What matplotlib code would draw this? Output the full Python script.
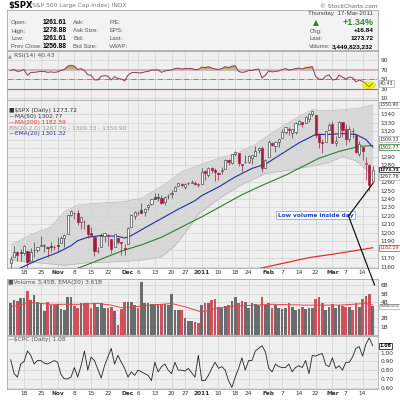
import matplotlib
matplotlib.use("Agg")
import matplotlib.pyplot as plt
import numpy as np
import pandas as pd
from matplotlib.patches import Rectangle, Ellipse, ConnectionPatch

# trading days shown on the chart
holidays = ["2010-11-25", "2010-12-24", "2011-01-17", "2011-02-21"]
dates = pd.bdate_range("2010-10-12", "2011-03-17", freq="C", holidays=holidays)

prev_close0 = 1165.3
opens = [
    1164.3, 1171.3, 1177.8, 1177.5, 1176.8, 1178.6, 1166.7, 1179.8, 1180.5, 1184.7, 1184.9, 1183.8, 1184.5, 1183.9,
    1185.7, 1187.9, 1193.8, 1198.3, 1221.2, 1223.2, 1223.6, 1213.1, 1213.0, 1209.1, 1200.4, 1194.8, 1178.3, 1183.8,
    1196.1, 1198.1, 1192.5, 1183.7, 1194.2, 1189.1, 1182.6,
    1186.6, 1206.8, 1219.9, 1223.9, 1227.3, 1225.0, 1230.1, 1233.9, 1242.5, 1241.8, 1241.6, 1236.3, 1243.6, 1245.8,
    1249.4, 1254.9, 1257.5, 1254.7, 1259.1, 1258.8, 1259.4, 1256.8,
    1257.6, 1272.9, 1268.8, 1276.3, 1274.4, 1270.8, 1272.6, 1275.7, 1285.8, 1282.9, 1293.2, 1294.5, 1280.9, 1283.6,
    1283.3, 1288.2, 1291.1, 1297.5, 1299.6, 1276.5,
    1289.1, 1305.9, 1302.8, 1307.0, 1311.9, 1318.8, 1322.5, 1318.1, 1318.7, 1328.7, 1330.4, 1329.5, 1334.4, 1340.4,
    1338.9, 1315.4, 1307.1, 1307.3, 1321.6,
    1328.6, 1305.5, 1312.4, 1330.7, 1322.7, 1311.1, 1319.9, 1315.7, 1293.4, 1301.2, 1281.7, 1279.5, 1261.6]
highs = [
    1172.6, 1184.4, 1178.9, 1181.2, 1185.5, 1178.6, 1182.9, 1189.4, 1184.0, 1196.1, 1187.1, 1183.8, 1189.5, 1185.5,
    1195.8, 1195.9, 1198.3, 1221.3, 1227.1, 1224.6, 1226.8, 1218.8, 1215.5, 1210.5, 1207.4, 1194.8, 1183.6, 1200.3,
    1199.9, 1198.9, 1192.5, 1198.6, 1194.2, 1189.1, 1187.4,
    1207.6, 1221.9, 1225.6, 1225.8, 1235.1, 1228.9, 1234.7, 1240.4, 1246.7, 1246.6, 1244.3, 1243.8, 1245.8, 1250.2,
    1255.8, 1259.4, 1258.6, 1258.4, 1259.9, 1262.6, 1261.1, 1259.3,
    1276.2, 1274.1, 1277.6, 1278.2, 1276.8, 1271.5, 1277.6, 1286.9, 1287.0, 1293.2, 1296.1, 1294.6, 1281.6, 1291.2,
    1291.9, 1291.3, 1302.0, 1301.3, 1302.7, 1287.2,
    1308.9, 1307.6, 1308.6, 1311.0, 1322.9, 1324.9, 1324.5, 1322.8, 1330.8, 1332.8, 1330.4, 1337.6, 1341.0, 1344.1,
    1338.9, 1317.9, 1310.2, 1320.6, 1329.4,
    1332.1, 1314.2, 1332.3, 1331.1, 1327.7, 1325.7, 1323.2, 1315.7, 1308.4, 1301.2, 1288.9, 1280.9, 1278.9]
lows = [
    1155.7, 1171.3, 1166.7, 1167.1, 1174.6, 1159.7, 1166.7, 1171.2, 1178.0, 1184.7, 1177.7, 1171.7, 1177.1, 1179.7,
    1177.7, 1187.9, 1183.6, 1198.3, 1220.3, 1217.0, 1208.9, 1204.3, 1204.5, 1194.1, 1197.2, 1173.0, 1175.9, 1183.8,
    1189.0, 1184.3, 1176.9, 1183.7, 1186.9, 1173.6, 1174.1,
    1186.6, 1206.8, 1216.6, 1220.7, 1223.3, 1219.5, 1226.8, 1232.6, 1240.3, 1238.2, 1234.0, 1232.9, 1239.9, 1241.5,
    1249.4, 1254.9, 1254.1, 1251.5, 1256.2, 1258.8, 1256.3, 1254.2,
    1257.6, 1262.7, 1265.4, 1270.4, 1261.7, 1262.2, 1269.6, 1275.7, 1280.4, 1281.1, 1290.2, 1278.9, 1271.3, 1282.1,
    1282.5, 1281.1, 1291.1, 1294.4, 1271.2, 1276.5,
    1289.1, 1302.6, 1294.8, 1301.7, 1311.9, 1316.0, 1314.9, 1311.6, 1316.1, 1326.9, 1324.6, 1329.5, 1331.0, 1338.1,
    1312.3, 1299.6, 1294.3, 1307.3, 1320.9,
    1306.1, 1302.6, 1312.4, 1312.6, 1303.9, 1306.9, 1312.3, 1294.2, 1291.0, 1286.4, 1261.9, 1249.1, 1261.6]
closes = [
    1169.8, 1178.1, 1173.8, 1176.2, 1184.7, 1165.9, 1178.2, 1180.3, 1183.1, 1185.6, 1185.6, 1182.5, 1183.8, 1183.3,
    1184.4, 1193.6, 1198.0, 1221.1, 1225.9, 1223.3, 1213.4, 1218.7, 1213.5, 1199.2, 1197.8, 1178.3, 1178.6, 1196.7,
    1199.7, 1197.8, 1180.7, 1198.4, 1189.4, 1187.8, 1180.6,
    1206.1, 1221.5, 1224.7, 1223.1, 1223.8, 1228.3, 1233.0, 1240.4, 1240.5, 1241.6, 1235.2, 1242.9, 1243.9, 1247.1,
    1254.6, 1258.8, 1256.8, 1257.5, 1258.5, 1259.8, 1257.9, 1257.6,
    1271.9, 1270.2, 1276.6, 1273.9, 1271.5, 1269.8, 1274.5, 1286.0, 1283.8, 1293.2, 1295.0, 1281.9, 1280.3, 1283.4,
    1290.8, 1291.2, 1296.6, 1299.5, 1276.3, 1286.1,
    1307.6, 1304.0, 1307.1, 1310.9, 1319.1, 1324.6, 1320.9, 1321.9, 1329.2, 1332.3, 1328.0, 1336.3, 1340.4, 1343.0,
    1315.4, 1307.4, 1306.1, 1319.9, 1327.2,
    1306.3, 1308.4, 1331.0, 1321.2, 1310.1, 1321.8, 1320.0, 1295.1, 1304.3, 1296.4, 1281.9, 1256.9, 1273.7]

# overlays (day index, value)
ema20_days = [0, 3, 8, 14, 18, 20, 23, 27, 32, 34, 36, 40, 45, 50, 55, 57, 62, 67, 72, 76, 80, 86, 91, 95, 99, 103, 106, 108]
ema20_vals = [1153, 1159, 1168, 1177, 1185, 1191, 1195, 1197, 1196, 1194, 1197, 1206, 1217, 1228, 1238, 1244, 1254,
              1266, 1276, 1281, 1291, 1306, 1316, 1316, 1317, 1316, 1310, 1301.3]
ma50_days = [18, 19, 25, 30, 34, 39, 45, 51, 57, 63, 69, 75, 82, 87, 92, 98, 104, 108]
ma50_vals = [1152, 1157, 1166, 1174, 1180, 1186, 1195, 1207, 1219, 1232, 1245, 1256, 1268, 1278, 1288, 1296, 1302, 1302.8]
ma200_days = [72, 74, 82, 89, 96, 104, 108]
ma200_vals = [1155, 1158, 1165, 1171, 1175, 1180, 1182.6]
bb_up_days = [0, 6, 12, 16, 20, 26, 34, 39, 43, 47, 51, 55, 62, 67, 73, 80, 86, 90, 94, 99, 104, 108]
bb_up_vals = [1186, 1198, 1207, 1225, 1233, 1235, 1237, 1241, 1250, 1260, 1272, 1278, 1288, 1293, 1304, 1323, 1337,
              1345, 1344, 1345, 1347, 1350.9]
bb_lo_days = [0, 8, 16, 23, 31, 39, 45, 49, 53, 56, 62, 68, 76, 83, 89, 95, 99, 103, 106, 108]
bb_lo_vals = [1168, 1165, 1162, 1165, 1166, 1168, 1172, 1185, 1205, 1222, 1240, 1255, 1270, 1274, 1278, 1283, 1290,
              1285, 1275, 1267.8]

rsi = [68, 70, 66, 67, 70, 58, 64, 64, 65, 66, 66, 64, 65, 64,
       65, 68, 70, 77, 79, 77, 70, 72, 68, 59, 58, 48, 48, 56, 57, 56, 48, 55, 51, 50, 46,
       58, 63, 64, 63, 63, 65, 66, 69, 69, 69, 64, 67, 68, 69, 72, 73, 71, 72, 72, 72, 70, 70,
       75, 74, 76, 73, 71, 70, 72, 76, 74, 77, 78, 66, 64, 65, 68, 68, 70, 71, 52, 58,
       67, 65, 66, 67, 70, 72, 69, 70, 72, 73, 71, 74, 75, 76, 55, 50, 49, 56, 59,
       48, 49, 58, 54, 50, 54, 53, 44, 48, 45, 40, 33, 40.43]

volume = [3.9, 4.2, 4.1, 4.5, 4.5, 5.3, 4.2, 4.8, 4.0, 3.9, 2.9, 4.0, 3.6, 3.6,
          3.7, 3.1, 3.0, 4.6, 4.6, 3.5, 3.3, 3.8, 3.8, 3.8, 3.2, 3.8, 3.4, 3.8, 3.3, 3.3, 3.4, 2.9, 1.2, 3.1, 4.0,
          4.0, 4.0, 3.6, 3.2, 6.4, 3.8, 3.8, 3.7, 3.7, 3.7, 3.7, 3.7, 3.6, 5.0, 3.0, 3.0, 3.0, 2.0, 1.7, 1.7, 1.6, 1.5,
          3.6, 3.8, 3.9, 4.2, 4.3, 3.4, 3.3, 3.5, 3.6, 4.1, 4.6, 3.8, 4.1, 4.0, 3.3, 3.8, 3.7, 3.6, 4.6, 3.6,
          3.8, 3.3, 3.6, 3.3, 3.1, 3.2, 3.8, 3.4, 3.0, 3.1, 3.4, 3.1, 3.3, 3.2, 4.3, 4.6, 3.9, 3.0, 3.4,
          3.7, 3.3, 3.6, 3.5, 3.4, 3.4, 3.0, 3.8, 3.4, 4.3, 4.7, 5.0, 3.45]
vol_ema_days = [0, 6, 12, 20, 26, 30, 33, 37, 42, 48, 52, 56, 57, 62, 68, 73, 78, 88, 98, 106, 108]
vol_ema_vals = [3.4, 3.9, 3.7, 3.7, 3.8, 3.6, 3.3, 3.4, 3.6, 3.8, 3.4, 2.9, 2.75, 3.3, 3.5, 3.6, 3.7, 3.6, 3.6, 3.8, 3.62]

cpc = [0.92, 0.76, 0.72, 0.87, 0.90, 1.02, 0.97, 0.87, 0.91, 0.91, 0.88, 0.87, 0.89, 0.91,
       0.89, 0.75, 0.70, 0.70, 0.72, 0.83, 0.72, 0.85, 1.02, 0.80, 0.95, 0.91, 0.81, 0.71, 0.85, 0.95, 1.05, 0.87,
       0.97, 0.89, 0.82,
       0.72, 0.78, 0.74, 0.80, 0.78, 0.76, 0.74, 0.68, 0.89, 0.78, 0.84, 0.87, 0.80, 0.76, 0.89, 0.80, 0.80, 0.79,
       0.82, 0.77, 0.72, 0.97,
       0.68, 0.68, 0.74, 0.82, 0.89, 0.82, 0.84, 0.80, 0.68, 0.60, 0.72, 0.82, 0.94, 0.80, 0.91, 0.91, 1.02, 1.05,
       1.08, 1.01,
       0.82, 0.78, 0.87, 0.84, 0.83, 0.83, 0.87, 0.78, 0.83, 0.85, 0.83, 0.91, 0.76, 0.97, 0.96, 0.98, 0.99, 0.86,
       0.84,
       0.94, 0.82, 0.85, 0.80, 0.89, 0.89, 0.95, 1.05, 1.07, 0.96, 1.10, 1.17, 1.08]

price_ticks = list(range(1160, 1350, 10))
price_hidden = [1180, 1270, 1300, 1310]   # labels covered by value boxes

# ---------------------------------------------------------------------------
BG = "#efefef"
GRID = "#d3d3d3"
UP = "#3c3c3c"
DOWN = "#a01b3e"
TXT = "#333333"
FS = 4.2
BOXFS = 3.4
HEAD = "Liberation Sans"

x = np.arange(len(dates))
prev = np.array([prev_close0] + closes[:-1])
down = np.array(closes) < prev

# week / month ticks
ticks, tick_labels, tick_bold = [], [], []
month_starts = [i for i in range(1, len(dates)) if dates[i].month != dates[i - 1].month]
for i in range(1, len(dates)):
    d = dates[i]
    if i in month_starts:
        ticks.append(i)
        tick_labels.append("2011" if d.month == 1 else d.strftime("%b"))
        tick_bold.append(True)
    elif d.isocalendar()[1] != dates[i - 1].isocalendar()[1]:
        same_week = [m for m in month_starts if dates[m].isocalendar()[1] == d.isocalendar()[1]]
        if not same_week:
            ticks.append(i)
            tick_labels.append(str(d.day))
            tick_bold.append(False)

fig = plt.figure(figsize=(4, 4), dpi=100)
fig.patch.set_facecolor("white")
L, W = 7 / 400, 371 / 400


def panel(top, bottom):
    ax = fig.add_axes([L, 1 - bottom / 400, W, (bottom - top) / 400])
    ax.set_facecolor(BG)
    ax.set_xlim(-1.1, 109.6)
    ax.set_xticks(ticks)
    ax.grid(True, color=GRID, lw=0.5)
    ax.set_axisbelow(True)
    ax.yaxis.tick_right()
    ax.tick_params(length=0, labelsize=FS, colors=TXT, pad=2)
    ax.tick_params(axis="x", labelbottom=False)
    for s in ax.spines.values():
        s.set_color("#a8a8a8")
        s.set_linewidth(0.6)
    return ax


def date_labels(ax):
    ax.tick_params(axis="x", labelbottom=True, pad=1.5)
    ax.set_xticklabels(tick_labels)
    for lab, b in zip(ax.get_xticklabels(), tick_bold):
        if b:
            lab.set_fontweight("bold")


def value_box(ax, y, text, color, edge, bold=False, size=BOXFS, family=None):
    ax.text(1.005, y, text, transform=ax.get_yaxis_transform(), fontsize=size, color=color,
            fontweight="bold" if bold else "normal", va="center", ha="left", zorder=10, family=family,
            bbox=dict(boxstyle="square,pad=0.12", fc="white", ec=edge, lw=0.5), clip_on=False)


# title line
fig.text(0.02, 0.986, r"\$SPX", fontsize=6, fontweight="bold", va="center")
fig.text(0.076, 0.986, "(S&P 500 Large Cap Index) INDX", fontsize=FS, color="#777777", va="center")
fig.text(0.945, 0.985, "© StockCharts.com", fontsize=FS, color="#666666", va="center", ha="right")

# header box
hd = fig.add_axes([L, 1 - 50 / 400, W, 40 / 400])
hd.set_facecolor("#f3f3f3")
hd.set_xticks([])
hd.set_yticks([])
for s in hd.spines.values():
    s.set_color("#a8a8a8")
    s.set_linewidth(0.6)
rows = [0.68, 0.475, 0.275, 0.075]
for y, lab, val, l2, l3 in zip(rows, ["Open:", "High:", "Low:", "Prev Close:"],
                               ["1261.61", "1278.88", "1261.61", "1256.88"],
                               ["Ask:", "Ask Size:", "Bid:", "Bid Size:"],
                               ["P/E:", "EPS:", "Last:", "VWAP:"]):
    hd.text(0.011, y, lab, fontsize=4.3, color="#555555", va="center", family=HEAD)
    hd.text(0.097, y, val, fontsize=4.8, fontweight="bold", va="center", family=HEAD)
    hd.text(0.178, y, l2, fontsize=4.3, color="#555555", va="center", family=HEAD)
    hd.text(0.275, y, l3, fontsize=4.3, color="#555555", va="center", family=HEAD)
hd.text(0.987, 0.9, "Thursday  17-Mar-2011", fontsize=4.5, color="#444444", ha="right", va="center", family=HEAD)
hd.text(0.826, 0.68, "▲", fontsize=5.5, color="#2f7d2f", va="center")
hd.text(0.987, 0.68, "+1.34%", fontsize=6.5, fontweight="bold", color="#2f8a2f", ha="right", va="center",
        family=HEAD)
for y, lab, val in zip(rows[1:], ["Chg:", "Last:", "Volume:"], ["+16.84", "1273.72", "3,449,823,232"]):
    hd.text(0.815, y, lab, fontsize=4.3, color="#555555", va="center", family=HEAD)
    hd.text(0.987, y, val, fontsize=4.6, fontweight="bold", ha="right", va="center", family=HEAD)

# RSI panel
ar = panel(51, 100)
ar.set_ylim(5.8, 109)
ar.set_yticks([10, 30, 50, 70, 90])
ar.set_yticklabels(["10", "30", "50", "70", "90"])
ar.axhline(70, color="#cbb5b9", lw=1.3)
ar.axhline(30, color="#8a6c72", lw=0.8)
ar.axhline(50, color="#9c6a6a", lw=0.6, ls="-.")
rsi_a = np.array(rsi)
ar.fill_between(x, rsi_a, 70, where=rsi_a > 70, interpolate=True, color="#b8b07a", lw=0)
ar.plot(x, rsi_a, color="#8e3b4c", lw=0.7)
ar.add_patch(Ellipse((106.9, 37), 3.9, 14, fc="#fff200", ec="#e0d000", lw=0.4, zorder=5))
ar.plot([105.8, 106.9, 108.0], [40.5, 33.5, 40.5], color="#7a7a00", lw=0.6, zorder=6)
value_box(ar, 40.43, "40.43", TXT, "#a8a8a8")
ar.text(0.004, 0.9, "▲", transform=ar.transAxes, fontsize=3.8, color="#9c9460", va="center")
ar.text(0.018, 0.9, "RSI(14) 40.43", transform=ar.transAxes, fontsize=FS, color="#555555", va="center")

# price panel
ap = panel(100, 268)
ap.set_ylim(1158.8, 1356.5)
ap.set_yticks(price_ticks)
ap.set_yticklabels(["" if t in price_hidden else str(t) for t in price_ticks])
days_all = sorted(set(bb_up_days) | set(bb_lo_days))
ap.fill_between(days_all, np.interp(days_all, bb_lo_days, bb_lo_vals), np.interp(days_all, bb_up_days, bb_up_vals),
                color="#d4d4d4", alpha=0.85, lw=0, zorder=1)
ap.plot(bb_up_days, bb_up_vals, color="#b8b8b8", lw=0.5, zorder=2)
ap.plot(bb_lo_days, bb_lo_vals, color="#b8b8b8", lw=0.5, zorder=2)
ap.plot(ma200_days, ma200_vals, color="#e83030", lw=0.9, zorder=3)
ap.plot(ma50_days, ma50_vals, color="#2e7d32", lw=0.8, zorder=3)
ap.plot(ema20_days, ema20_vals, color="#2030a0", lw=0.8, zorder=3)
for i in x:
    c = DOWN if down[i] else UP
    o, cl = opens[i], closes[i]
    ap.vlines(i, lows[i], highs[i], color=c, lw=0.5, zorder=4)
    fc = "white" if cl >= o else c
    ap.add_patch(Rectangle((i - 0.32, min(o, cl)), 0.64, max(abs(cl - o), 0.4), fc=fc, ec=c, lw=0.45, zorder=5))
date_labels(ap)
value_box(ap, 1350.9, "1350.90", TXT, "#a8a8a8")
value_box(ap, 1310.5, "1309.33", TXT, "#a8a8a8")
value_box(ap, 1301.0, "1302.77", TXT, "#2e7d32")
value_box(ap, 1274.5, "1273.72", "black", "black", bold=True, size=3.2)
value_box(ap, 1266.0, "1267.76", TXT, "#a8a8a8")
value_box(ap, 1182.59, "1182.59", "#d02020", "#e83030")
legend = [("■$SPX (Daily) 1273.72", "#333333"), ("—MA(50) 1302.77", "#333333"), ("—MA(200) 1182.59", "#e03030"),
          ("BB(20,2.0) 1267.76 - 1309.33 - 1350.90", "#999999"), ("—EMA(20) 1301.32", "#2030a0")]
for k, (t, col) in enumerate(legend):
    ap.text(0.005, 0.935 - k * 0.034, t, transform=ap.transAxes, fontsize=FS, color=col, va="center", zorder=8)
ap.text(91, 1221, "Low volume inside day", fontsize=FS, color="#1a3fcc", fontweight="bold", ha="center",
        va="center", zorder=9, bbox=dict(boxstyle="square,pad=0.25", fc="white", ec="#8a96c8", lw=0.5))

# volume panel
av = panel(279, 335)
av.set_ylim(0, 6.75)
av.set_yticks([1, 2, 3, 4, 5, 6])
av.set_yticklabels(["1B", "2B", "", "4B", "5B", "6B"])
vcol = np.where(down, "#d24f5e", "#6c6c6c")
av.bar(x, volume, width=0.8, color=vcol, lw=0, zorder=2)
av.plot(vol_ema_days, vol_ema_vals, color="#ee4444", lw=0.7, zorder=3)
value_box(av, 3.45, "3449823232", TXT, "#a8a8a8", size=2.5, family=HEAD)
av.text(0.004, 0.94, "■Volume 3.45B, EMA(20) 3.61B", transform=av.transAxes, fontsize=FS, color="#555555",
        va="center", zorder=8)

# put/call ratio panel
ac = panel(336, 389)
ac.set_ylim(0.583, 1.192)
ac.set_yticks([0.6, 0.7, 0.8, 0.9, 1.0])
ac.set_yticklabels(["0.60", "0.70", "0.80", "0.90", "1.00"])
ac.plot(x, cpc, color="#222222", lw=0.6, zorder=3)
value_box(ac, 1.08, "1.08", "black", "black", bold=True)
ac.text(0.004, 0.93, r"—\$CPC (Daily) 1.08", transform=ac.transAxes, fontsize=FS,
        color="#555555", va="center")
date_labels(ac)

# annotation lines from the label to the last bar and its volume
start = (100.8, 1220)
for tgt, axes in [((108.2, 1259), ap), ((108.6, 6.0), av)]:
    con = ConnectionPatch(xyA=start, coordsA=ap.transData, xyB=tgt, coordsB=axes.transData,
                          color="black", lw=0.8, zorder=20)
    fig.add_artist(con)

fig.savefig("out.png", dpi=100, facecolor="white")
